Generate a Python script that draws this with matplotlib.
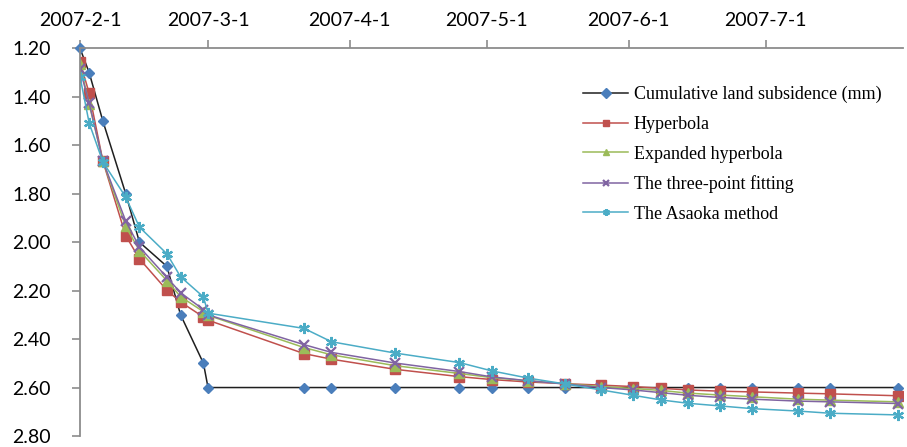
import datetime as dt
import numpy as np
import matplotlib
matplotlib.use("Agg")
import matplotlib.pyplot as plt
from matplotlib.ticker import FormatStrFormatter

# measurement dates
dates = ["2007-02-01", "2007-02-03", "2007-02-06", "2007-02-11", "2007-02-14",
         "2007-02-20", "2007-02-23", "2007-02-28", "2007-03-01", "2007-03-22",
         "2007-03-28", "2007-04-11", "2007-04-25", "2007-05-02", "2007-05-10",
         "2007-05-18", "2007-05-26", "2007-06-02", "2007-06-08", "2007-06-14",
         "2007-06-21", "2007-06-28", "2007-07-08", "2007-07-15", "2007-07-30"]

measured = [1.20, 1.30, 1.50, 1.80, 2.00, 2.10, 2.30, 2.50, 2.60, 2.60,
            2.60, 2.60, 2.60, 2.60, 2.60, 2.60, 2.60, 2.60, 2.60, 2.60,
            2.60, 2.60, 2.60, 2.60, 2.60]
hyperbola = [1.255, 1.385, 1.665, 1.973, 2.069, 2.198, 2.247, 2.309, 2.322, 2.460,
             2.483, 2.525, 2.555, 2.567, 2.577, 2.584, 2.590, 2.596, 2.603, 2.610,
             2.615, 2.618, 2.623, 2.626, 2.634]
expanded = [1.265, 1.430, 1.665, 1.935, 2.035, 2.159, 2.225, 2.287, 2.302, 2.435,
            2.465, 2.510, 2.542, 2.559, 2.572, 2.584, 2.596, 2.604, 2.612, 2.623,
            2.631, 2.638, 2.648, 2.652, 2.659]
three_point = [1.287, 1.425, 1.665, 1.913, 2.020, 2.145, 2.209, 2.278, 2.300, 2.423,
               2.455, 2.499, 2.534, 2.556, 2.572, 2.585, 2.600, 2.610, 2.621, 2.632,
               2.641, 2.648, 2.656, 2.659, 2.666]
asaoka = [1.317, 1.508, 1.669, 1.814, 1.938, 2.048, 2.143, 2.226, 2.293, 2.356,
          2.411, 2.458, 2.497, 2.531, 2.561, 2.585, 2.610, 2.632, 2.651, 2.665,
          2.676, 2.687, 2.697, 2.706, 2.713]

labels = ["Cumulative land subsidence (mm)", "Hyperbola", "Expanded hyperbola",
          "The three-point fitting", "The Asaoka method"]

x = [dt.datetime.strptime(d, "%Y-%m-%d") for d in dates]

fig = plt.figure(figsize=(9.07, 4.47), dpi=100)
ax = fig.add_axes([80 / 907, 1 - 436 / 447, (903 - 80) / 907, (436 - 48.3) / 447])

ax.plot(x, measured, color="#1f1f1f", lw=1.1, marker="D", ms=5.5,
        mfc="#4a7ebb", mec="#4a7ebb", label=labels[0], clip_on=False)
ax.plot(x, hyperbola, color="#c0504d", lw=1.1, marker="s", ms=6.5,
        mfc="#c0504d", mec="#c0504d", label=labels[1])
ax.plot(x, expanded, color="#9bbb59", lw=1.1, marker="^", ms=6.5,
        mfc="#9bbb59", mec="#9bbb59", label=labels[2])
ax.plot(x, three_point, color="#8064a2", lw=1.1, marker="x", ms=6.5, mew=1.6,
        label=labels[3])
ax.plot(x, asaoka, color="#4bacc6", lw=1.1, marker=(6, 2, 0), ms=8, mew=1.6,
        label=labels[4])

ax.set_xlim(dt.datetime(2007, 2, 1), dt.datetime(2007, 7, 31))
ax.set_ylim(2.80, 1.20)
ax.set_yticks(np.arange(1.2, 2.81, 0.2))
ax.yaxis.set_major_formatter(FormatStrFormatter("%.2f"))

ax.set_xticks([dt.datetime(2007, m, 1) for m in range(2, 8)])
ax.set_xticklabels([f"2007-{m}-1" for m in range(2, 8)])
ax.xaxis.tick_top()

for s in ["right", "bottom"]:
    ax.spines[s].set_visible(False)
for s in ["left", "top"]:
    ax.spines[s].set_color("#8c8c8c")
    ax.spines[s].set_linewidth(1.3)

ax.tick_params(axis="both", colors="#8c8c8c", length=6, width=1.2,
               labelcolor="black", labelsize=14)
ax.tick_params(axis="x", pad=8)
ax.tick_params(axis="y", pad=15)
for t in ax.get_xticklabels() + ax.get_yticklabels():
    t.set_fontfamily("Lato")

leg = ax.legend(loc="upper left", bbox_to_anchor=(583 / 907, 1 - 86 / 447),
                bbox_transform=fig.transFigure, frameon=False,
                prop={"family": "Liberation Serif", "size": 13},
                handlelength=2.5, handletextpad=0.3, labelspacing=0.7,
                borderaxespad=0, borderpad=0)
for h in leg.legend_handles:
    h.set_markersize(5)

fig.savefig("out.png", dpi=100)
